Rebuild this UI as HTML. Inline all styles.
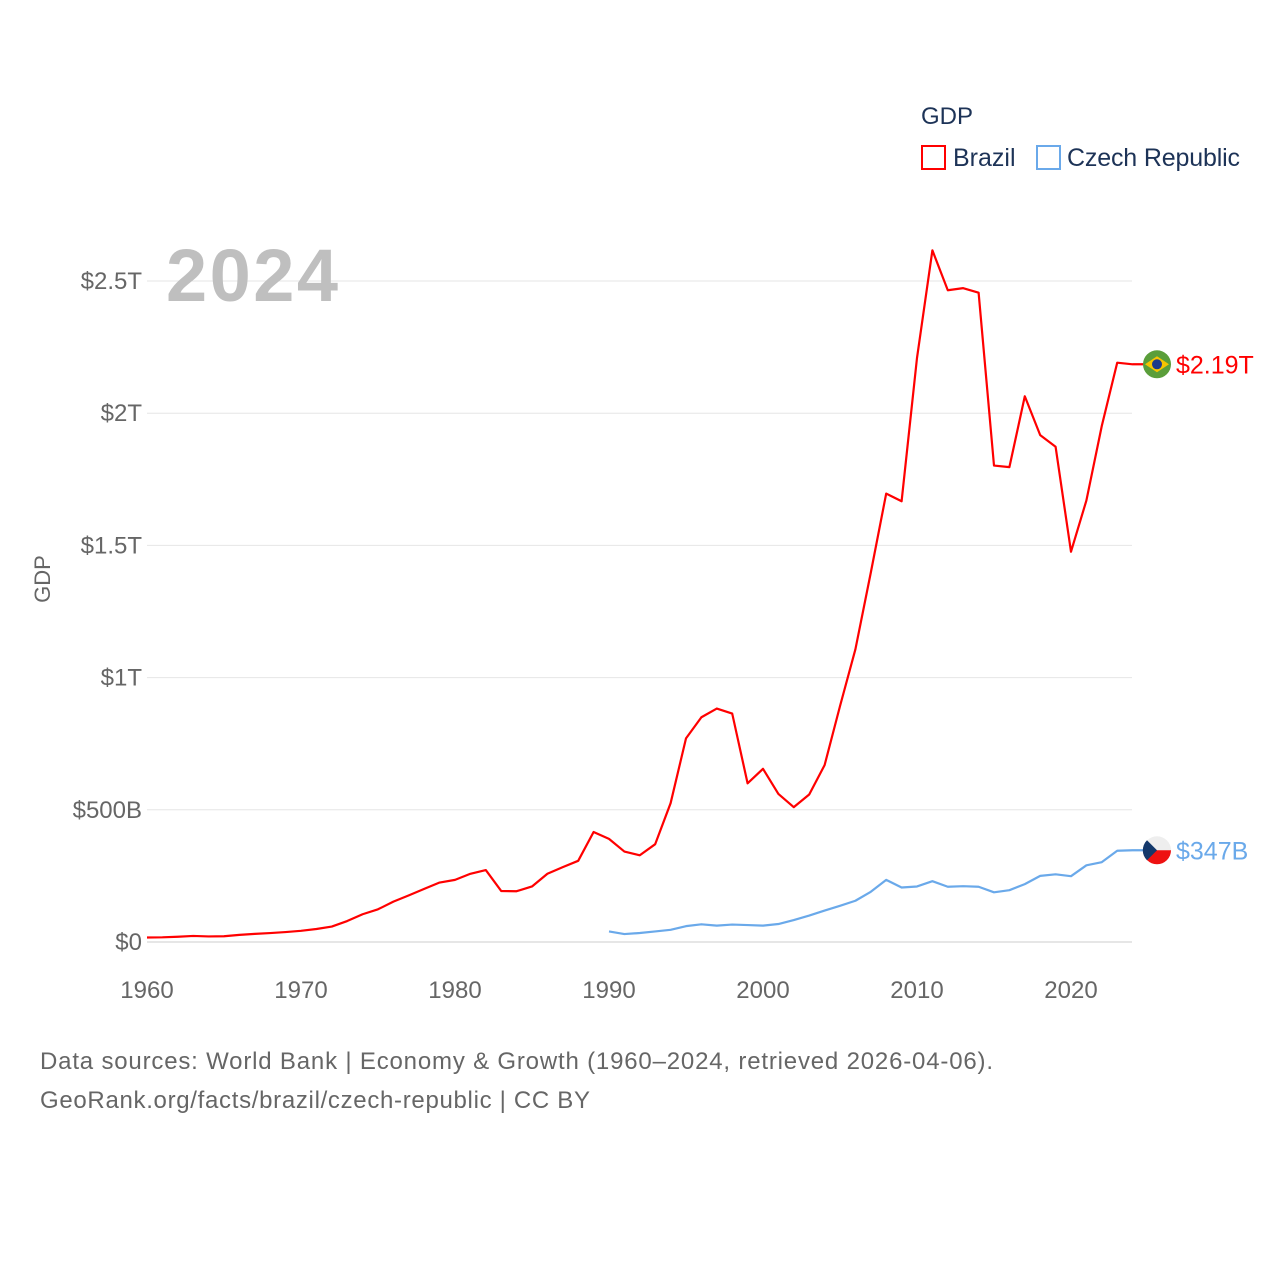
<!DOCTYPE html>
<html><head><meta charset="utf-8"><style>
body{margin:0;background:#fff;font-family:"Liberation Sans",sans-serif}
svg text{font-family:"Liberation Sans",sans-serif}
</style></head><body>
<svg id="chart" width="1280" height="1280" viewBox="0 0 1280 1280">
<g id="grid"></g><g id="series"></g>
<text x="921" y="124" font-size="24" fill="#1d3357">GDP</text>
<rect x="922" y="146" width="23" height="23" fill="none" stroke="#f00" stroke-width="2"/>
<text x="953" y="166" font-size="25" fill="#1d3357">Brazil</text>
<rect x="1037" y="146" width="23" height="23" fill="none" stroke="#6aa9ea" stroke-width="2"/>
<text x="1067" y="166" font-size="25" fill="#1d3357" textLength="173">Czech Republic</text>
<text x="166" y="301" font-size="74" font-weight="bold" fill="#bfbfbf" textLength="172">2024</text>
<text x="50" y="579" font-size="22" fill="#666" transform="rotate(-90 50 579)" text-anchor="middle">GDP</text>
<text x="40" y="1069" font-size="24" fill="#666" textLength="953">Data sources: World Bank | Economy &amp; Growth (1960–2024, retrieved 2026-04-06).</text>
<text x="40" y="1108" font-size="24" fill="#666" textLength="550">GeoRank.org/facts/brazil/czech-republic | CC BY</text>
</svg>
<script>
const years=[];for(let y=1960;y<=2024;y++)years.push(y);
const brazil=[17,17.8,19.9,23,21,21.8,27,30.6,33.9,37.5,42.3,49.2,58.5,79.3,105,123.7,152.7,176.2,200.8,224.9,235,258,272,193,192,210,258,283,307,416,390,342,328,370,525,770,850,883,864,600,655,560,510,558,669,892,1107,1397,1696,1667,2209,2616,2465,2473,2456,1802,1796,2064,1917,1873,1476,1670,1952,2191,2185];
const czechYears=[];for(let y=1990;y<=2024;y++)czechYears.push(y);
const czech=[40,30,34,40,46,60,67,62,66,64,62,68,83,100,119,137,156,190,235,206,210,230,209,211,209,188,196,219,250,256,249,290,302,345,347];
const yTicks=[0,500,1000,1500,2000,2500];
const yTickLabels=["$0","$500B","$1T","$1.5T","$2T","$2.5T"];
const xTicks=[1960,1970,1980,1990,2000,2010,2020];
const X=y=>147+(y-1960)*15.4;
const Y=v=>942-v*(661/2500);
const NS="http://www.w3.org/2000/svg";
const svg=document.getElementById('chart'),grid=document.getElementById('grid'),ser=document.getElementById('series');
function mk(tag,attrs,parent){const e=document.createElementNS(NS,tag);for(const k in attrs)e.setAttribute(k,attrs[k]);parent.appendChild(e);return e;}
yTicks.forEach((t,i)=>{
 const l=mk('line',{x1:147,x2:1132,y1:Y(t),y2:Y(t),stroke:i==0?'#ccc':'#e6e6e6','stroke-width':1},grid);
 
 
 const tx=mk('text',{x:142,y:Y(t)+8,'text-anchor':'end','font-size':24,fill:'#666'},grid);tx.textContent=yTickLabels[i];
 
 
});
xTicks.forEach(t=>{
 const tx=mk('text',{x:X(t),y:998,'text-anchor':'middle','font-size':24,fill:'#666'},grid);tx.textContent=t;
 
 
});
function line(xs,vs,color,name,label){
 const pts=xs.map((y,i)=>X(y)+','+Y(vs[i]));
 const last=vs[vs.length-1];
 pts.push('1150,'+Y(last));
 const p=mk('polyline',{points:pts.join(' '),fill:'none',stroke:color,'stroke-width':2.2,'stroke-linejoin':'round'},ser);
 
 
 const c=mk('circle',{cx:1157,cy:Y(last),r:14,fill:name=='brazil'?'#5a9e3a':'#eee'},ser);
 
 
 if(name=='brazil'){mk('path',{d:`M1145 ${Y(last)} L1157 ${Y(last)-8} L1169 ${Y(last)} L1157 ${Y(last)+8}Z`,fill:'#f5c400'},ser);mk('circle',{cx:1157,cy:Y(last),r:5,fill:'#1d3a8a'},ser);}
 else{mk('path',{d:`M1143 ${Y(last)} L1171 ${Y(last)} A14 14 0 0 1 1143 ${Y(last)}Z`,fill:'#e11'},ser);mk('path',{d:`M1147 ${Y(last)-10} L1157 ${Y(last)} L1147 ${Y(last)+10} A14 14 0 0 1 1147 ${Y(last)-10}Z`,fill:'#13386b'},ser);}
 const t=mk('text',{x:1176,y:Y(last)+9,'font-size':25,fill:color},ser);t.textContent=label;
 
 
}
line(years,brazil,'#f00','brazil','$2.19T');
line(czechYears,czech,'#6aa9ea','czech','$347B');
</script>
</body></html>
